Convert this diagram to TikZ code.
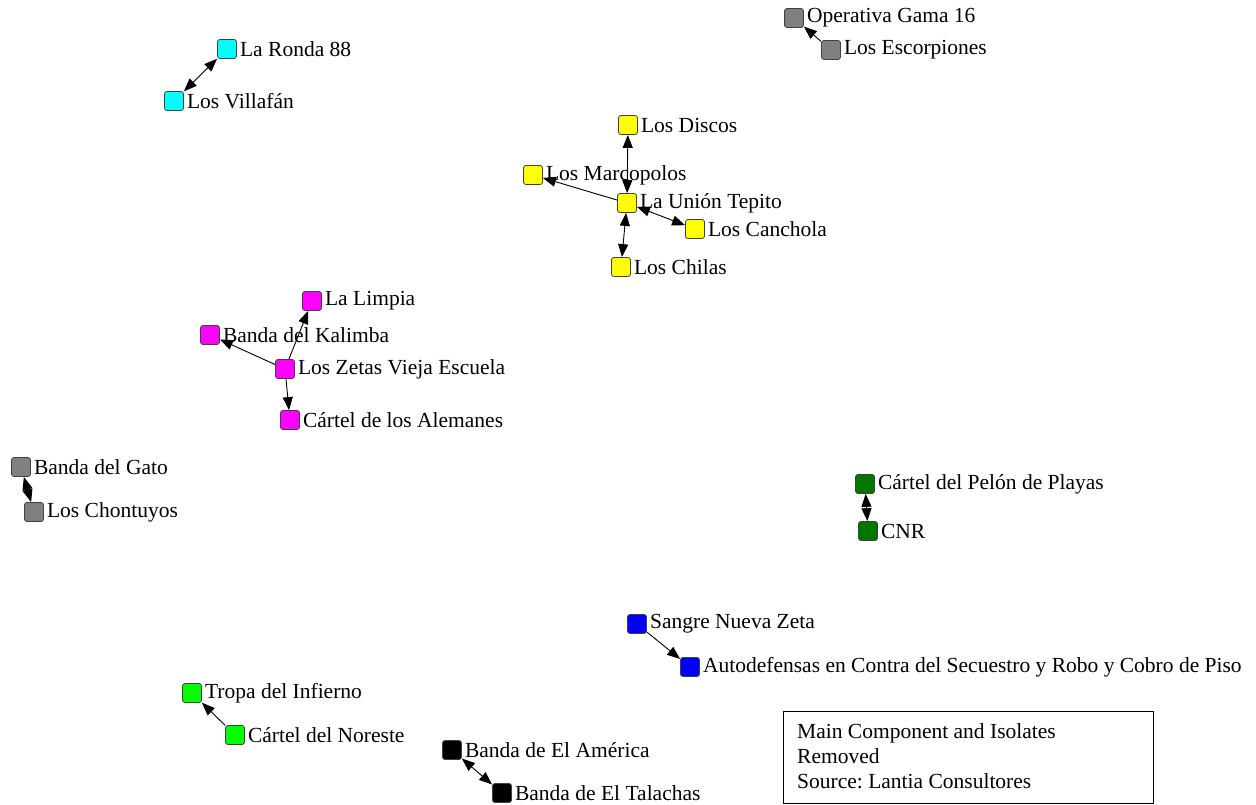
\documentclass[tikz,border=0pt]{standalone}
\usepackage{fontspec}
\setmainfont{Liberation Serif}
\usetikzlibrary{arrows.meta}
\begin{document}
\frenchspacing
\begin{tikzpicture}[x=1pt,y=-1pt,
  gnode/.style={draw=black!75, line width=0.8pt, rounded corners=2.5pt,
    minimum size=19pt, inner sep=0pt, fill=#1},
  lbl/.style={anchor=west, inner xsep=3pt, inner ysep=1pt, font=\fontsize{21.5}{24}\selectfont},
  edge/.style={line width=0.9pt, black},
  tip/.style={-{Triangle[length=13pt,width=10pt]}},
  both/.style={{Triangle[length=13pt,width=10pt]}-{Triangle[length=13pt,width=10pt]}}
]
\useasboundingbox (0,0) rectangle (1256,804);
\definecolor{cgrey}{RGB}{128,128,128}
\definecolor{ccyan}{RGB}{0,255,255}
\definecolor{cyel}{RGB}{255,255,0}
\definecolor{cmag}{RGB}{255,0,255}
\definecolor{cdkgreen}{RGB}{0,120,0}
\definecolor{cblue}{RGB}{0,0,255}
\definecolor{cltgreen}{RGB}{0,255,0}
\definecolor{cblack}{RGB}{0,0,0}

% nodes
\node[gnode=ccyan] (ronda) at (227,49) {};
\node[gnode=ccyan] (villa) at (174,101) {};
\node[gnode=cgrey] (gama) at (794,18) {};
\node[gnode=cgrey] (escor) at (831,50) {};
\node[gnode=cyel] (discos) at (628,125) {};
\node[gnode=cyel] (marco) at (533,175) {};
\node[gnode=cyel] (union) at (627,203) {};
\node[gnode=cyel] (canch) at (695,229) {};
\node[gnode=cyel] (chilas) at (621,267) {};
\node[gnode=cmag] (limpia) at (312,301) {};
\node[gnode=cmag] (kalimba) at (210,335) {};
\node[gnode=cmag] (zetas) at (285,369) {};
\node[gnode=cmag] (alem) at (290,420) {};
\node[gnode=cgrey] (gato) at (21,467) {};
\node[gnode=cgrey] (chont) at (34,512) {};
\node[gnode=cdkgreen] (pelon) at (865,484) {};
\node[gnode=cdkgreen] (cnr) at (868,531) {};
\node[gnode=cblue] (sangre) at (637,624) {};
\node[gnode=cblue] (autod) at (690,667) {};
\node[gnode=cltgreen] (tropa) at (192,693) {};
\node[gnode=cltgreen] (noreste) at (235,735) {};
\node[gnode=cblack] (amer) at (452,750) {};
\node[gnode=cblack] (talach) at (502,793) {};

% labels
\node[lbl] (lronda) at (ronda.east) {La Ronda 88};
\node[lbl] (lvilla) at (villa.east) {Los Villafán};
\node[lbl] (lgama) at (gama.east) {Operativa Gama 16};
\node[lbl] (lescor) at (escor.east) {Los Escorpiones};
\node[lbl] (ldiscos) at (discos.east) {Los Discos};
\node[lbl] (lmarco) at (marco.east) {Los Marcopolos};
\node[lbl] (lunion) at (union.east) {La Unión Tepito};
\node[lbl] (lcanch) at (canch.east) {Los Canchola};
\node[lbl] (lchilas) at (chilas.east) {Los Chilas};
\node[lbl] (llimpia) at (limpia.east) {La Limpia};
\node[lbl] (lkalimba) at (kalimba.east) {Banda del Kalimba};
\node[lbl] (lzetas) at (zetas.east) {Los Zetas Vieja Escuela};
\node[lbl] (lalem) at (alem.east) {Cártel de los Alemanes};
\node[lbl] (lgato) at (gato.east) {Banda del Gato};
\node[lbl] (lchont) at (chont.east) {Los Chontuyos};
\node[lbl] (lpelon) at (pelon.east) {Cártel del Pelón de Playas};
\node[lbl] (lcnr) at (cnr.east) {CNR};
\node[lbl] (lsangre) at (sangre.east) {Sangre Nueva Zeta};
\node[lbl] (lautod) at (autod.east) {Autodefensas en Contra del Secuestro y Robo y Cobro de Piso};
\node[lbl] (ltropa) at (tropa.east) {Tropa del Infierno};
\node[lbl] (lnoreste) at (noreste.east) {Cártel del Noreste};
\node[lbl] (lamer) at (amer.east) {Banda de El América};
\node[lbl] (ltalach) at (talach.east) {Banda de El Talachas};

% connectors
\draw[edge,both] (villa) -- (ronda);
\draw[edge,tip] (escor) -- (gama);
\draw[edge,both] (union) -- (discos);
\draw[edge,tip] (union) -- (marco);
\draw[edge,both] (canch) -- (union);
\draw[edge,both] (chilas) -- (union);
\draw[edge,tip] (zetas) -- (limpia);
\draw[edge,tip] (zetas) -- (kalimba);
\draw[edge,tip] (zetas) -- (alem);
\draw[edge,both] (gato) -- (chont);
\draw[edge,both] (pelon) -- (cnr);
\draw[edge,tip] (sangre) -- (autod);
\draw[edge,tip] (noreste) -- (tropa);
\draw[edge,both] (amer) -- (talach);

% legend
\node[draw=black, line width=1pt, anchor=north west, minimum width=370pt, minimum height=92pt,
  inner sep=0pt] (legendbox) at (783,711) {};
\node[anchor=north west, align=left, inner xsep=0pt, inner ysep=0pt,
  font=\fontsize{21.5}{25}\selectfont] (legendtext) at ([xshift=14pt,yshift=-12pt]legendbox.north west)
  {Main Component and Isolates\\Removed\\Source: Lantia Consultores};
\end{tikzpicture}
\end{document}
